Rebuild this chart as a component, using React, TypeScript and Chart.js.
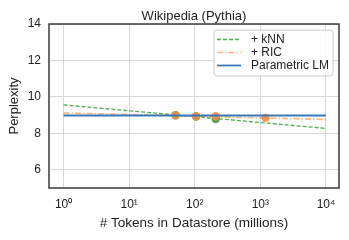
import React, { useEffect, useRef } from "react";
import { Chart, registerables } from "chart.js";

Chart.register(...registerables);

const title = "Wikipedia (Pythia)";
const xTitle = "# Tokens in Datastore (millions)";
const yTitle = "Perplexity";
const xTicks = [1, 10, 100, 1000, 10000];
const xTickLabels = ["10\u2070", "10\u00B9", "10\u00B2", "10\u00B3", "10\u2074"];
const yTicks = [6, 8, 10, 12, 14];

// fitted trend lines (x in millions of tokens)
const fitX = [1, 10000];
const knnFit = [9.56, 8.27];
const ricFit = [9.12, 8.76];
const lmFit = [8.98, 8.98];

// measured points
const knnPtsX = [51, 105, 209];
const knnPtsY = [8.99, 8.92, 8.79];
const ricPtsX = [51, 105, 209, 1200];
const ricPtsY = [8.99, 8.94, 8.94, 8.85];

const GREEN = "#4caf4c";
const ORANGE_LINE = "rgba(248,150,85,0.7)";
const BLUE = "#3a78b8";

const legendItems = [
  { label: "+ kNN", color: GREEN, dash: [4, 2], width: 1.3 },
  { label: "+ RIC", color: ORANGE_LINE, dash: [6, 2, 1.5, 2], width: 1.7 },
  { label: "Parametric LM", color: BLUE, dash: [], width: 1.8 },
];

const FONT = "'Liberation Sans', Arial, Helvetica, sans-serif";
const TEXT = "#222222";

const pts = (xs: number[], ys: number[]) => xs.map((x, i) => ({ x, y: ys[i] }));

export default function App() {
  const ref = useRef<HTMLCanvasElement | null>(null);

  useEffect(() => {
    document.body.style.margin = "0";
    const canvas = ref.current;
    if (!canvas) return;

    const framePlugin = {
      id: "frameAndLegend",
      afterDraw(chart: any) {
        const { ctx, chartArea } = chart;
        const { left, right, top, bottom } = chartArea;
        ctx.save();
        // frame
        ctx.strokeStyle = "#3a3a3a";
        ctx.lineWidth = 1.5;
        ctx.setLineDash([]);
        ctx.strokeRect(left, top, right - left, bottom - top);
        // title
        ctx.fillStyle = TEXT;
        ctx.font = `13px ${FONT}`;
        ctx.textAlign = "center";
        ctx.textBaseline = "middle";
        ctx.fillText(title, (left + right) / 2, 16.5);
        // legend
        const bx = 214, by = 30, bw = 119, bh = 46, r = 3;
        ctx.beginPath();
        ctx.moveTo(bx + r, by);
        ctx.lineTo(bx + bw - r, by);
        ctx.quadraticCurveTo(bx + bw, by, bx + bw, by + r);
        ctx.lineTo(bx + bw, by + bh - r);
        ctx.quadraticCurveTo(bx + bw, by + bh, bx + bw - r, by + bh);
        ctx.lineTo(bx + r, by + bh);
        ctx.quadraticCurveTo(bx, by + bh, bx, by + bh - r);
        ctx.lineTo(bx, by + r);
        ctx.quadraticCurveTo(bx, by, bx + r, by);
        ctx.closePath();
        ctx.fillStyle = "rgba(255,255,255,0.85)";
        ctx.fill();
        ctx.strokeStyle = "#cccccc";
        ctx.lineWidth = 1;
        ctx.stroke();
        ctx.font = `12px ${FONT}`;
        ctx.textAlign = "left";
        legendItems.forEach((it, i) => {
          const y = 39.5 + i * 13;
          ctx.beginPath();
          ctx.strokeStyle = it.color;
          ctx.lineWidth = it.width;
          ctx.setLineDash(it.dash);
          ctx.moveTo(217, y);
          ctx.lineTo(241, y);
          ctx.stroke();
          ctx.setLineDash([]);
          ctx.fillStyle = TEXT;
          ctx.fillText(it.label, 251, y + 0.5);
        });
        ctx.restore();
      },
    };

    const chart = new Chart(canvas, {
      type: "scatter",
      data: {
        datasets: [
          {
            type: "line",
            label: "Parametric LM",
            data: pts(fitX, lmFit),
            borderColor: BLUE,
            borderWidth: 1.8,
            pointRadius: 0,
            order: 0,
          },
          {
            label: "+ RIC points",
            data: pts(ricPtsX, ricPtsY),
            backgroundColor: "rgba(243,140,75,0.9)",
            borderWidth: 0,
            pointRadius: 4.2,
            order: 1,
          },
          {
            type: "line",
            label: "+ RIC",
            data: pts(fitX, ricFit),
            borderColor: ORANGE_LINE,
            borderDash: [6, 2, 1.5, 2],
            borderWidth: 1.7,
            pointRadius: 0,
            order: 2,
          },
          {
            label: "+ kNN points",
            data: pts(knnPtsX, knnPtsY),
            backgroundColor: "rgba(60,160,60,0.9)",
            borderWidth: 0,
            pointRadius: 4.2,
            order: 3,
          },
          {
            type: "line",
            label: "+ kNN",
            data: pts(fitX, knnFit),
            borderColor: GREEN,
            borderDash: [4, 2],
            borderWidth: 1.3,
            pointRadius: 0,
            order: 4,
          },
        ],
      },
      options: {
        responsive: false,
        animation: false,
        layout: { padding: { top: 24, right: 10, left: 0, bottom: 0 } },
        plugins: {
          legend: { display: false },
          tooltip: { enabled: false },
          title: { display: false },
        },
        scales: {
          x: {
            type: "logarithmic",
            min: Math.pow(10, -0.2),
            max: Math.pow(10, 4.2),
            afterBuildTicks: (scale: any) => {
              scale.ticks = xTicks.map((v) => ({ value: v }));
            },
            afterFit: (scale: any) => {
              scale.height = 52;
            },
            ticks: {
              autoSkip: false,
              maxRotation: 0,
              padding: 9,
              color: TEXT,
              font: { family: FONT, size: 12 },
              callback: (v: any) => {
                const i = xTicks.indexOf(Number(v));
                return i >= 0 ? xTickLabels[i] : "";
              },
            },
            grid: { color: "#d8d8d8", lineWidth: 1, drawTicks: false },
            border: { display: false },
            title: {
              display: true,
              text: xTitle,
              color: TEXT,
              font: { family: FONT, size: 13.5 },
              padding: { top: 0, bottom: 8.5 },
            },
          },
          y: {
            min: 5,
            max: 14,
            afterBuildTicks: (scale: any) => {
              scale.ticks = yTicks.map((v) => ({ value: v }));
            },
            afterFit: (scale: any) => {
              scale.width = 49;
            },
            ticks: {
              padding: 8,
              color: TEXT,
              font: { family: FONT, size: 12 },
            },
            grid: { color: "#d8d8d8", lineWidth: 1, drawTicks: false },
            border: { display: false },
            title: {
              display: true,
              text: yTitle,
              color: TEXT,
              font: { family: FONT, size: 13 },
              padding: { top: 7, bottom: 0 },
            },
          },
        },
      },
      plugins: [framePlugin],
    } as any);

    return () => chart.destroy();
  }, []);

  return <canvas ref={ref} width={349} height={240} style={{ display: "block" }} />;
}
